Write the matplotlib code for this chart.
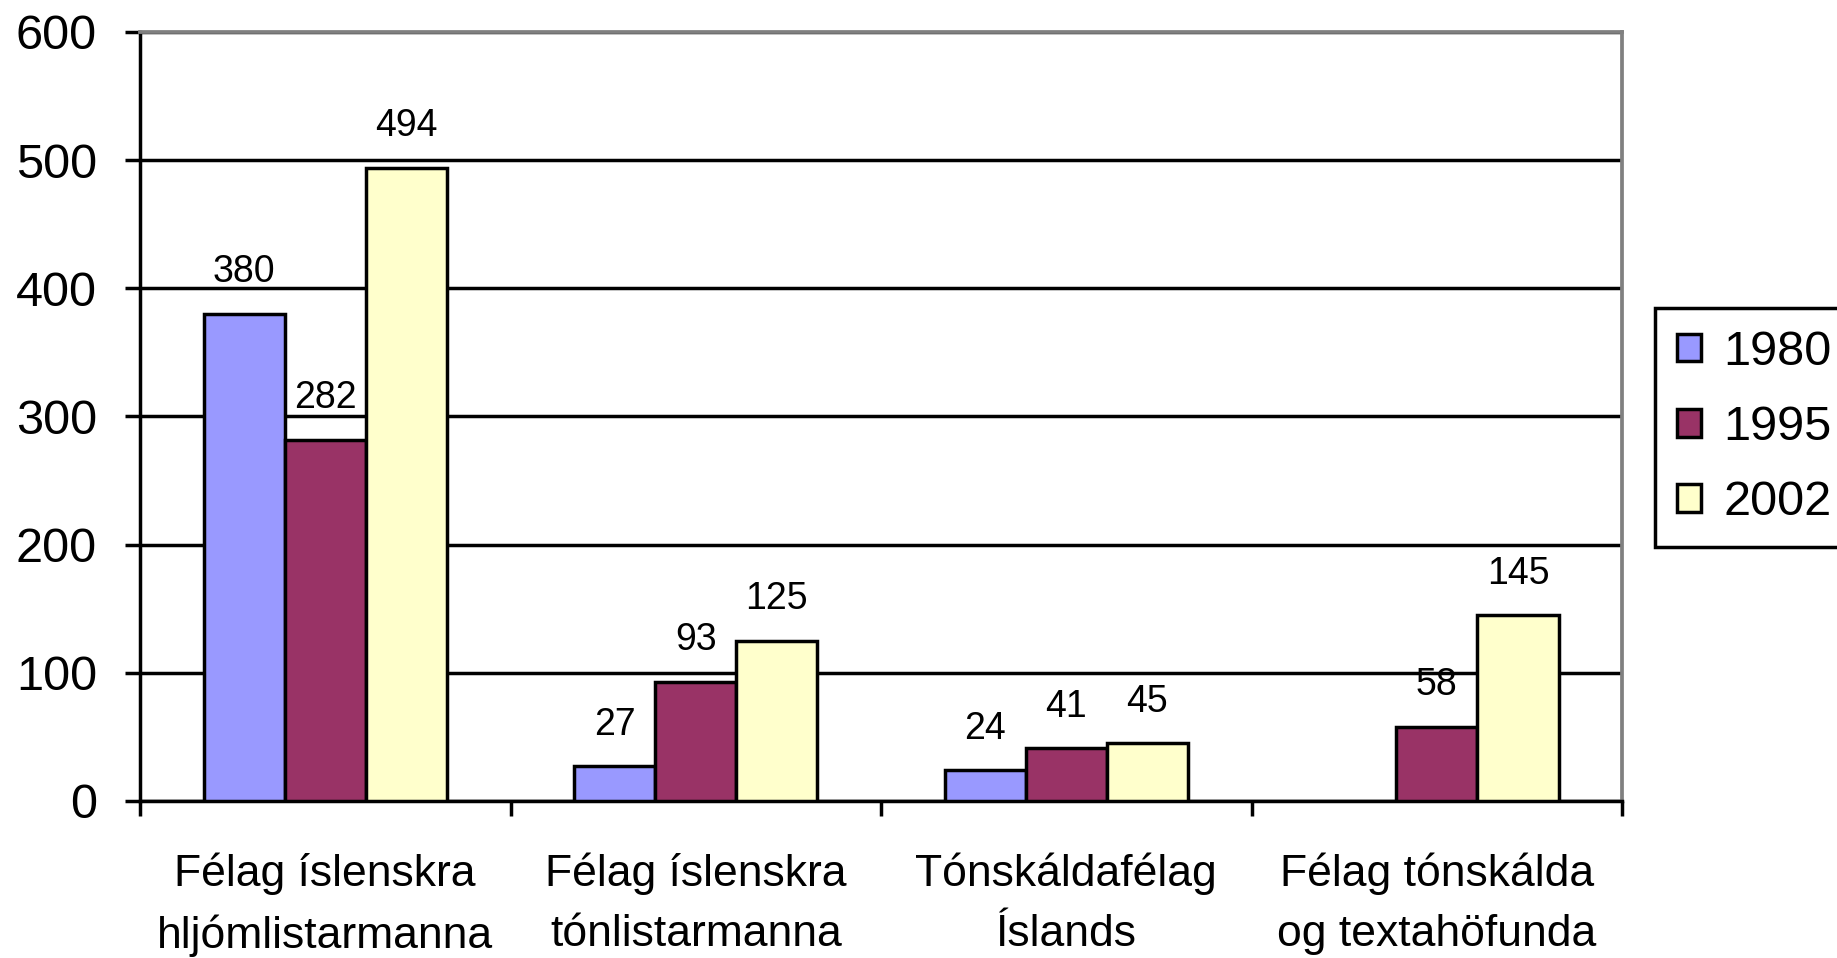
import matplotlib.pyplot as plt
import numpy as np

plt.rcParams['font.family'] = ['Liberation Sans', 'DejaVu Sans']

# Data
categories = ["Félag íslenskra\nhljómlistarmanna", "Félag íslenskra\ntónlistarmanna",
              "Tónskáldafélag\nÍslands", "Félag tónskálda\nog textahöfunda"]
years = ["1980", "1995", "2002"]
v1980 = [380, 27, 24, np.nan]
v1995 = [282, 93, 41, 58]
v2002 = [494, 125, 45, 145]
y_ticks = [0, 100, 200, 300, 400, 500, 600]

colors = ["#9999FF", "#993366", "#FFFFCC"]

fig = plt.figure(figsize=(18.37, 9.58), dpi=100)
ax = fig.add_axes([0.0762, 0.1639, 0.8068, 0.8027])

x = np.arange(len(categories))
w = 0.219
for i, (vals, col, yr) in enumerate(zip([v1980, v1995, v2002], colors, years)):
    pos = x + (i - 1) * w
    ax.bar(pos, vals, width=w, color=col, edgecolor='black', linewidth=2.5,
           label=yr, zorder=3)
    for p, v in zip(pos, vals):
        if np.isnan(v):
            continue
        ax.annotate(f"{int(v)}", (p, v), xytext=(0, 17), textcoords='offset points',
                    ha='center', va='bottom', fontsize=27)

ax.set_xlim(-0.5, len(categories) - 0.5)
ax.set_ylim(0, 600)
ax.set_yticks(y_ticks)
ax.tick_params(axis='y', labelsize=35, length=11, width=2.5, pad=20)
ax.yaxis.grid(True, color='black', linewidth=2.5)
ax.set_axisbelow(True)

# category labels at centres, tick marks at boundaries
ax.set_xticks(x)
ax.set_xticklabels(categories, fontsize=32, linespacing=1.6)
ax.set_xticks(np.arange(len(categories) + 1) - 0.5, minor=True)
ax.tick_params(axis='x', which='major', length=0, pad=37)
ax.tick_params(axis='x', which='minor', length=11, width=2.5)

for s in ['left', 'bottom']:
    ax.spines[s].set_linewidth(2.5)
    ax.spines[s].set_color('black')
for s in ['top', 'right']:
    ax.spines[s].set_linewidth(2.7)
    ax.spines[s].set_color('#808080')

leg = ax.legend(loc='upper left', bbox_to_anchor=(1655 / 1837, 1 - 308 / 958),
                bbox_transform=fig.transFigure, borderaxespad=0, fontsize=35,
                handlelength=0.5, handleheight=0.5, handletextpad=0.45,
                labelspacing=0.62, borderpad=0.45, fancybox=False, framealpha=1)
leg.get_frame().set_edgecolor('black')
leg.get_frame().set_linewidth(2.5)
for h in leg.legend_handles:
    h.set_linewidth(2.5)

fig.savefig("out.png", dpi=100)
